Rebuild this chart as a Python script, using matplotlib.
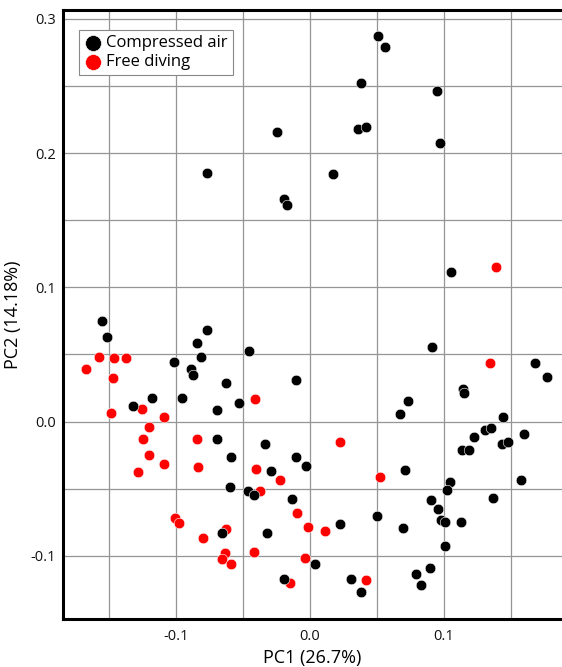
import numpy as np
import matplotlib
matplotlib.use("Agg")
from matplotlib import pyplot as plt
from matplotlib.ticker import MultipleLocator, FuncFormatter

# PC scores
air_pc1 = [-0.0766, -0.0249, 0.0507, 0.0562, 0.0378, 0.0945, 0.0358, 0.0420, 0.0973, 0.0172,
           -0.0192, -0.0174, 0.105, -0.1555, -0.1517, -0.0769, -0.0846, -0.0455, -0.0811, -0.1015,
           -0.089, -0.0871, -0.0629, -0.1179, -0.0958, -0.0532, -0.1323, -0.0692, -0.0692, -0.0336,
           -0.0592, -0.0291, -0.0599, -0.0463, -0.0418, 0.0908, 0.1679, 0.1769, -0.0102, 0.114,
           0.1147, 0.0729, 0.0672, 0.1438, 0.1308, 0.1351, 0.1226, 0.16, 0.1431, 0.148,
           0.1132, 0.1184, -0.0102, -0.0032, 0.0711, 0.1042, 0.102, 0.1577, -0.0134, 0.090,
           0.1363, -0.0659, -0.0321, -0.0192, 0.0224, 0.050, 0.0694, 0.0958, 0.098, 0.101,
           0.1127, 0.101, 0.0035, 0.0306, 0.0383, 0.0791, 0.0896, 0.0831]
air_pc2 = [0.185, 0.2156, 0.287, 0.279, 0.252, 0.246, 0.2178, 0.2196, 0.2077, 0.1844,
           0.1656, 0.161, 0.1113, 0.0751, 0.0627, 0.0684, 0.0585, 0.0528, 0.0483, 0.0441,
           0.0394, 0.0344, 0.029, 0.0176, 0.0176, 0.0139, 0.0112, 0.0089, -0.0134, -0.0166,
           -0.0268, -0.0372, -0.0488, -0.052, -0.055, 0.0553, 0.0436, 0.033, 0.0307, 0.024,
           0.0216, 0.0151, 0.0054, 0.0037, -0.006, -0.0045, -0.0112, -0.0092, -0.0171, -0.0156,
           -0.0211, -0.0211, -0.0268, -0.0332, -0.0362, -0.0454, -0.0513, -0.0434, -0.0575, -0.0587,
           -0.0567, -0.083, -0.083, -0.1172, -0.0761, -0.0704, -0.0793, -0.0652, -0.0731, -0.0751,
           -0.0751, -0.0927, -0.1061, -0.1172, -0.1274, -0.114, -0.1093, -0.1222]

free_pc1 = [0.139, -0.1674, -0.1575, -0.1463, -0.1375, -0.1468, -0.1485, -0.1254, -0.1092, -0.041,
            -0.1204, -0.1246, -0.0846, -0.1204, -0.1092, -0.1286, -0.0833, -0.040, -0.0224, -0.0373,
            0.1341, 0.0226, 0.052, -0.1007, -0.0975, -0.0629, -0.0796, -0.0415, -0.0634, -0.0659,
            -0.0592, -0.0097, -0.0013, 0.0114, -0.0035, -0.0152, 0.042]
free_pc2 = [0.115, 0.0392, 0.0481, 0.0473, 0.0473, 0.0327, 0.0067, 0.0092, 0.0037, 0.0166,
            -0.0042, -0.0129, -0.0134, -0.025, -0.0315, -0.0379, -0.034, -0.0354, -0.0434, -0.0518,
            0.0436, -0.0151, -0.0411, -0.0719, -0.0753, -0.0798, -0.0872, -0.0971, -0.0979, -0.1024,
            -0.1061, -0.0679, -0.0783, -0.0813, -0.1021, -0.1202, -0.1182]

plt.rcParams['font.family'] = ['Open Sans', 'DejaVu Sans']

fig = plt.figure(figsize=(5.62, 6.67), dpi=100)
ax = fig.add_axes([63/562, 48/667, 499/562, 609/667])

h_free = ax.scatter(free_pc1, free_pc2, s=58, c='#ff0000', edgecolors='white', linewidths=0.4, zorder=3)
h_air = ax.scatter(air_pc1, air_pc2, s=58, c='black', edgecolors='white', linewidths=0.4, zorder=3)

ax.set_xlim(-0.1843, 0.1881)
ax.set_ylim(-0.1472, 0.3067)

ax.xaxis.set_major_locator(MultipleLocator(0.05))
ax.yaxis.set_major_locator(MultipleLocator(0.05))

def lab(v, pos):
    if abs(round(v / 0.1) * 0.1 - v) < 1e-6:
        return "%.1f" % v
    return ""

ax.xaxis.set_major_formatter(FuncFormatter(lab))
ax.yaxis.set_major_formatter(FuncFormatter(lab))
ax.tick_params(length=0, labelsize=10.5, colors='#111111')
ax.tick_params(axis='x', pad=7)
ax.tick_params(axis='y', pad=5)

ax.grid(True, color='#959595', linewidth=0.9, zorder=0)
ax.set_axisbelow(True)

for side in ['left', 'bottom', 'top']:
    ax.spines[side].set_linewidth(2.2)
    ax.spines[side].set_color('black')
ax.spines['right'].set_visible(False)

ax.set_xlabel("PC1 (26.7%)", fontsize=13, labelpad=4)
ax.set_ylabel("PC2 (14.18%)", fontsize=13, labelpad=6)

leg = ax.legend([h_air, h_free], ["Compressed air", "Free diving"], loc='upper left',
                bbox_to_anchor=(0.033, 0.967), fontsize=12, fancybox=False, framealpha=1,
                edgecolor='#888888', handletextpad=0.3, borderpad=0.3, labelspacing=0.2,
                borderaxespad=0, handlelength=1.0, scatterpoints=1, markerscale=1.5)
leg.get_frame().set_linewidth(0.8)

fig.savefig("out.png", dpi=100)
